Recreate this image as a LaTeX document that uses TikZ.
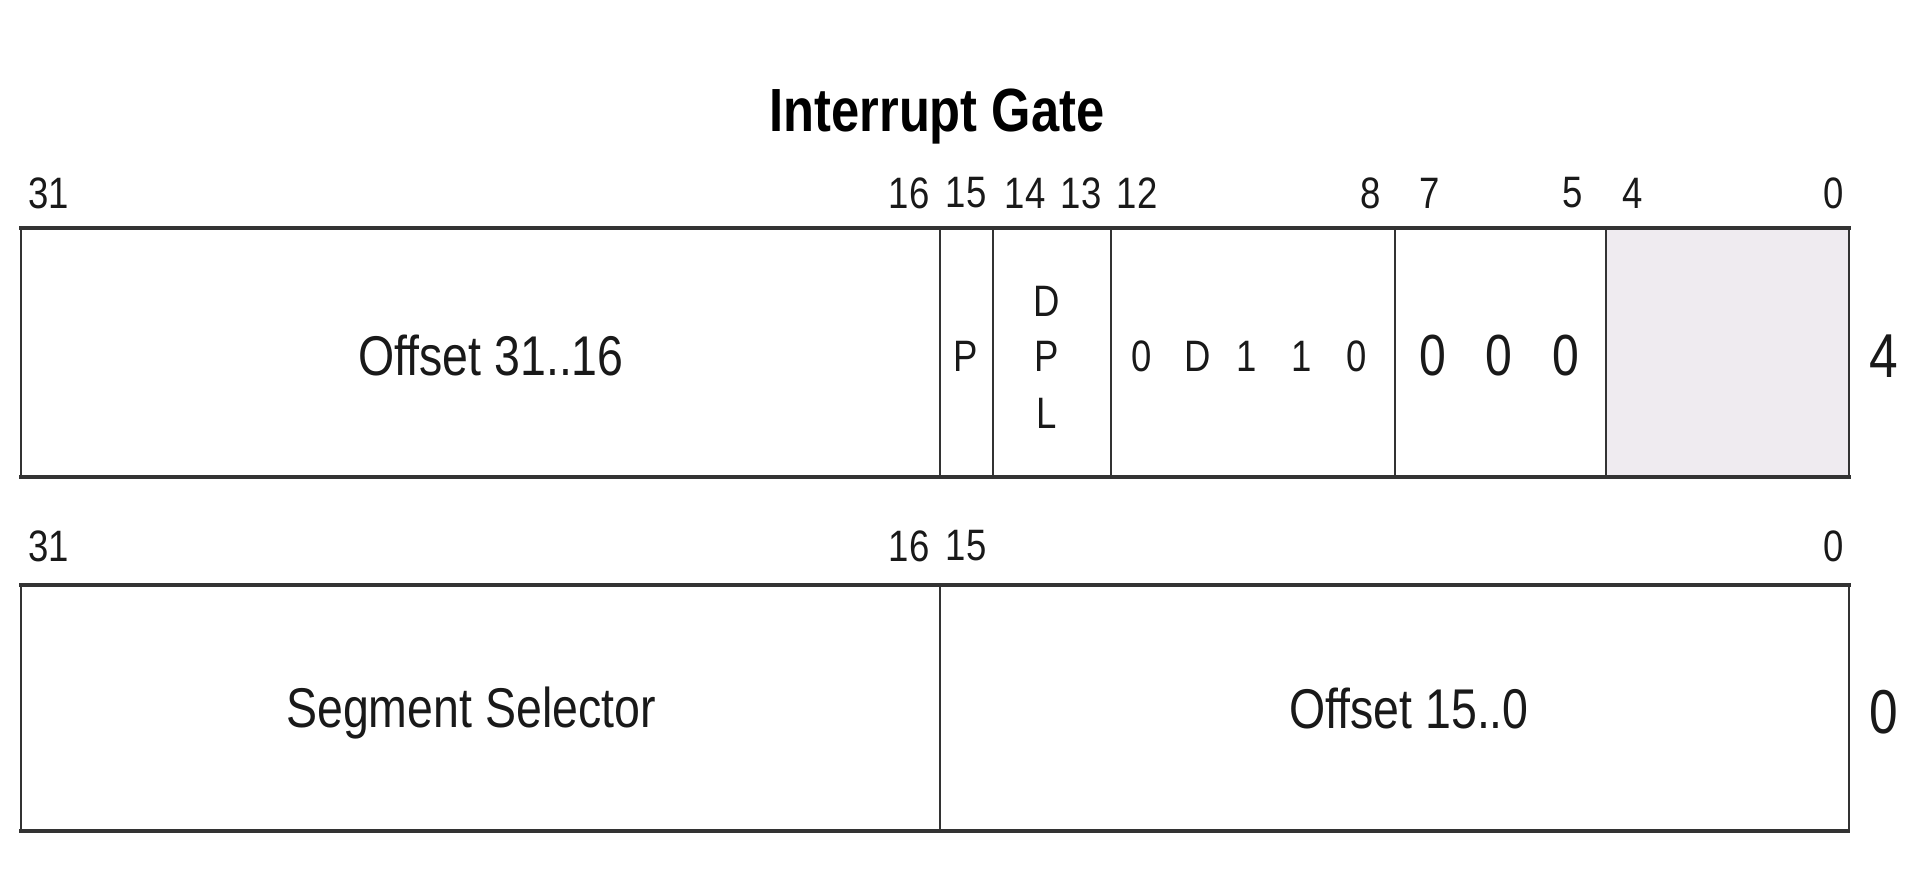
\documentclass[tikz,border=0pt]{standalone}
\usepackage{fontspec}
\setmainfont{Liberation Sans}[FakeStretch=0.83]
\begin{document}
\begin{tikzpicture}[x=0.5pt,y=-0.5pt,
  hline/.style={draw=black!80,line width=2.4pt,line cap=butt},
  vline/.style={draw=black!80,line width=1.4pt},
  bitlbl/.style={inner sep=0pt,text=black!90,font=\fontsize{22}{24}\selectfont},
  field/.style={inner sep=0pt,text=black!90,font=\fontsize{28}{30}\selectfont},
  small/.style={inner sep=0pt,text=black!90,font=\fontsize{22}{24}\selectfont},
  big/.style={inner sep=0pt,text=black!90,font=\fontsize{29}{31}\selectfont},
  offs/.style={inner sep=0pt,text=black!90,font=\fontsize{31}{33}\selectfont}]
\useasboundingbox (0,0) rectangle (1924,880);
\fill[white] (0,0) rectangle (1924,880);
% title
\node[inner sep=0pt,font=\bfseries\fontsize{30.5}{32}\selectfont] (title) at (937,117) {Interrupt Gate};
% ---------- row 1 (offset 4) ----------
\fill[fill={rgb,255:red,239;green,235;blue,240}] (1606,228) rectangle (1849,477);
\draw[vline] (21,228) -- (21,477);
\draw[vline] (940,228) -- (940,477);
\draw[vline] (993,228) -- (993,477);
\draw[vline] (1111,228) -- (1111,477);
\draw[vline] (1395,228) -- (1395,477);
\draw[vline] (1606,228) -- (1606,477);
\draw[vline] (1849,228) -- (1849,477);
\draw[hline] (19,228) -- (1851,228);
\draw[hline] (19,477) -- (1851,477);
% bit labels row 1
\node[bitlbl] (a31) at (49,193) {31};
\node[bitlbl] (a16) at (909,193) {16};
\node[bitlbl] (a15) at (966,193) {15};
\node[bitlbl] (a14) at (1025,193) {14};
\node[bitlbl] (a13) at (1081,193) {13};
\node[bitlbl] (a12) at (1137,193) {12};
\node[bitlbl] (a8) at (1371,193) {8};
\node[bitlbl] (a7) at (1430,193) {7};
\node[bitlbl] (a5) at (1573,193) {5};
\node[bitlbl] (a4) at (1633,193) {4};
\node[bitlbl] (a0) at (1834,193) {0};
% fields row 1
\node[field] (offhi) at (491,356) {Offset 31..16};
\node[small] (p) at (966,356) {P};
\node[small] (dplD) at (1047,301) {D};
\node[small] (dplP) at (1047,356) {P};
\node[small] (dplL) at (1047,413) {L};
\node[small] (t1) at (1142,356) {0};
\node[small] (t2) at (1198,356) {D};
\node[small] (t3) at (1247,356) {1};
\node[small] (t4) at (1302,356) {1};
\node[small] (t5) at (1357,356) {0};
\node[big] (z1) at (1433,356) {0};
\node[big] (z2) at (1499,356) {0};
\node[big] (z3) at (1566,356) {0};
\node[offs] (o4) at (1884,356) {4};
% ---------- row 2 (offset 0) ----------
\draw[vline] (21,585) -- (21,831);
\draw[vline] (940,585) -- (940,831);
\draw[vline] (1849,585) -- (1849,833);
\draw[hline] (19,585) -- (1851,585);
\draw[hline] (19,831) -- (1849,831);
\node[bitlbl] (b31) at (49,546) {31};
\node[bitlbl] (b16) at (909,546) {16};
\node[bitlbl] (b15) at (966,546) {15};
\node[bitlbl] (b0) at (1834,546) {0};
\node[field] (seg) at (471,713) {Segment Selector};
\node[field] (offlo) at (1409,708) {Offset 15..0};
\node[offs] (o0) at (1884,712) {0};
\end{tikzpicture}
\end{document}
